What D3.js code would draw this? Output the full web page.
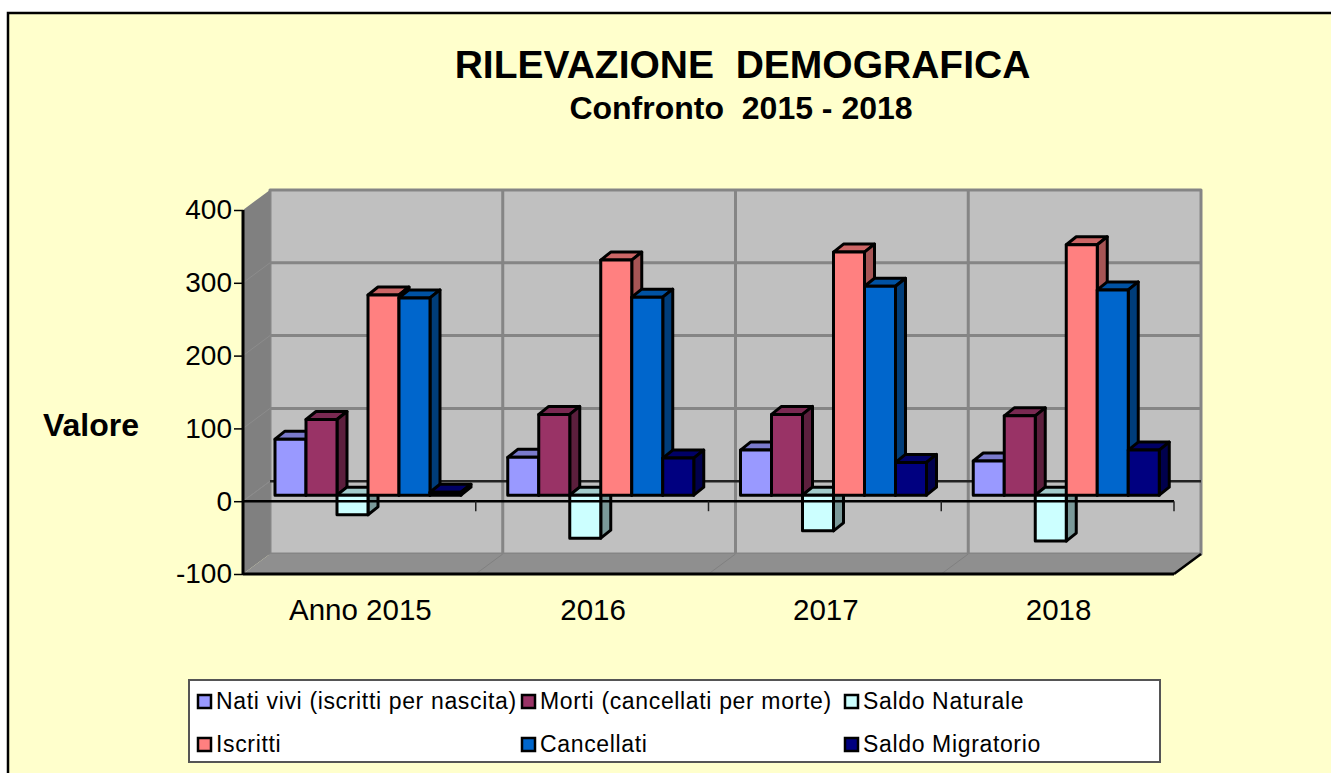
<!DOCTYPE html>
<html><head><meta charset="utf-8">
<script src="https://cdn.jsdelivr.net/npm/d3@7"></script>
<style>html,body{margin:0;padding:0;background:#fff}svg{display:block}text{font-family:"Liberation Sans",Arial,sans-serif;fill:#000}</style>
</head><body><svg id="c" width="1331" height="773"></svg>
<script>
const categories = ["Anno 2015","2016","2017","2018"];
const seriesNames = ["Nati vivi (iscritti per nascita)","Morti (cancellati per morte)","Saldo Naturale","Iscritti","Cancellati","Saldo Migratorio"];
const natiVivi = [77,52,62,47];
const morti = [104,111,111,109];
const saldoNaturale = [-27,-59,-49,-63];
const iscritti = [275,323,334,344];
const cancellati = [271,272,287,282];
const saldoMigratorio = [4,51,45,62];
const allSeries = [natiVivi,morti,saldoNaturale,iscritti,cancellati,saldoMigratorio];
const colors = ["#9999ff","#993366","#ccffff","#ff8080","#0066cc","#000080"];
const topColors = ["#7a7acc","#7a2952","#a3cccc","#cc6666","#0052a3","#000066"];
const sideColors = ["#5c5c99","#5c1f3d","#7a9999","#a65555","#003d7a","#00004d"];
const yTicks = [400,300,200,100,0,-100];

const svg = d3.select("#c");
const bg = "#ffffcc";
svg.append("rect").attr("x",8).attr("y",13).attr("width",1340).attr("height",800).attr("fill",bg).attr("stroke","#000").attr("stroke-width",2.5);

const x0=243,x1=1174,dX=27,dY=-20;
const y=d3.scaleLinear().domain([-100,400]).range([574,210]);
const xc=d3.scaleBand().domain(categories).range([x0,x1]);
const xs=d3.scaleBand().domain(d3.range(6)).range([32,218]);
const line=d3.line();
const poly=(g,p,f,s,w)=>g.append("path").attr("d",line(p)+"Z").attr("fill",f).attr("stroke",s||"none").attr("stroke-width",w||0).attr("stroke-linejoin","round");

// walls
const yB=y(-100), yT=y(400);
const wall=svg.append("g");
poly(wall,[[x0+dX,yT+dY],[x1+dX,yT+dY],[x1+dX,yB+dY],[x0+dX,yB+dY]],"#c0c0c0","#858585",3);
poly(wall,[[x0,yT],[x0+dX,yT+dY],[x0+dX,yB+dY],[x0,yB]],"#808080");
poly(wall,[[x0,yB],[x0+dX,yB+dY],[x1+dX,yB+dY],[x1,yB]],"#8f8f8f");
wall.append("path").attr("d",line([[x1,yB],[x1+dX,yB+dY]])).attr("stroke","#000").attr("stroke-width",2.5);
// gridlines
yTicks.forEach(t=>{
  if(t!==-100&&t!==400&&t!==0) wall.append("line").attr("x1",x0+dX).attr("x2",x1+dX).attr("y1",y(t)+dY).attr("y2",y(t)+dY).attr("stroke","#858585").attr("stroke-width",3);
  if(t!==-100&&t!==400) wall.append("line").attr("x1",x0).attr("x2",x0+dX).attr("y1",y(t)).attr("y2",y(t)+dY).attr("stroke","#8c8c8c").attr("stroke-width",1);
});
categories.slice(1).forEach(c=>{
  const x=xc(c);
  wall.append("line").attr("x1",x+dX).attr("x2",x+dX).attr("y1",yT+dY).attr("y2",yB+dY).attr("stroke","#858585").attr("stroke-width",3);
  wall.append("line").attr("x1",x).attr("x2",x+dX).attr("y1",yB).attr("y2",yB+dY).attr("stroke","#808080").attr("stroke-width",1);
});
// zero line on back wall
wall.append("line").attr("x1",x0+dX).attr("x2",x1+dX).attr("y1",y(0)+dY).attr("y2",y(0)+dY).attr("stroke","#222").attr("stroke-width",2.5);
wall.append("line").attr("x1",x0).attr("x2",x0+dX).attr("y1",y(0)).attr("y2",y(0)+dY).attr("stroke","#8c8c8c");

// bars: pushed into the depth of the chart
const bOffX=0,bOffY=-6,depX=10,depY=-8;
const bars=svg.append("g").attr("stroke-linejoin","round");
categories.forEach((c,ci)=>{
  allSeries.forEach((vals,si)=>{
    const v=vals[ci];
    const l=xc(c)+xs(si)+bOffX, r=l+xs.bandwidth();
    const a=y(Math.max(v,0))+bOffY, b=y(Math.min(v,0))+bOffY;
    poly(bars,[[l,a],[l+depX,a+depY],[r+depX,a+depY],[r,a]],topColors[si],"#000",3);
    poly(bars,[[r,a],[r+depX,a+depY],[r+depX,b+depY],[r,b]],sideColors[si],"#000",3);
    bars.append("rect").attr("x",l).attr("y",a).attr("width",r-l).attr("height",b-a).attr("fill",colors[si]).attr("stroke","#000").attr("stroke-width",3);
  });
});

// axes
const axG=svg.append("g");
const axisY=d3.axisLeft(y).tickValues(yTicks).tickSize(9).tickPadding(2).tickFormat(d=>String(d));
const gy=axG.append("g").attr("transform",`translate(${x0},0)`).call(axisY);
gy.selectAll(".domain").attr("stroke","#000").attr("stroke-width",3).attr("d",`M0,${yT}V${yB}`);
gy.selectAll(".tick line").attr("stroke","#000").attr("stroke-width",1.5);
gy.selectAll("text").attr("font-size",28).attr("font-family",'"Liberation Sans"');
axG.append("line").attr("x1",x0).attr("x2",x1).attr("y1",yB).attr("y2",yB).attr("stroke","#000").attr("stroke-width",3);
axG.append("line").attr("x1",x0).attr("x2",x1).attr("y1",y(0)).attr("y2",y(0)).attr("stroke","#000").attr("stroke-width",2.5);
[...categories.slice(1).map(c=>xc(c)),x1].forEach(x=>axG.append("line").attr("x1",x).attr("x2",x).attr("y1",y(0)).attr("y2",y(0)+10).attr("stroke","#222").attr("stroke-width",1.5));
categories.forEach(c=>svg.append("text").attr("x",xc(c)+xc.bandwidth()/2+1).attr("y",620).attr("text-anchor","middle").attr("font-size",29.5).text(c));

// titles
svg.append("text").attr("x",742.5).attr("y",78).attr("text-anchor","middle").attr("font-size",39).attr("font-weight","bold").style("white-space","pre").text("RILEVAZIONE  DEMOGRAFICA");
svg.append("text").attr("x",741).attr("y",119).attr("text-anchor","middle").attr("font-size",32).attr("font-weight","bold").style("white-space","pre").text("Confronto  2015 - 2018");
svg.append("text").attr("x",91).attr("y",436).attr("text-anchor","middle").attr("font-size",32).attr("font-weight","bold").text("Valore");

// legend
const lg=svg.append("g");
lg.append("rect").attr("x",189).attr("y",680).attr("width",971).attr("height",82).attr("fill","#fff").attr("stroke","#555").attr("stroke-width",2);
const legendX=[198,522,845], legendY=[701,744];
seriesNames.forEach((n,i)=>{
  const cx=legendX[i%3], cy=legendY[Math.floor(i/3)];
  lg.append("rect").attr("x",cx).attr("y",cy-6).attr("width",13).attr("height",13).attr("fill",colors[i]).attr("stroke","#000").attr("stroke-width",2.5);
  lg.append("text").attr("x",cx+18).attr("y",cy+8).attr("font-size",23).attr("letter-spacing",0.65).text(n);
});
</script></body></html>
